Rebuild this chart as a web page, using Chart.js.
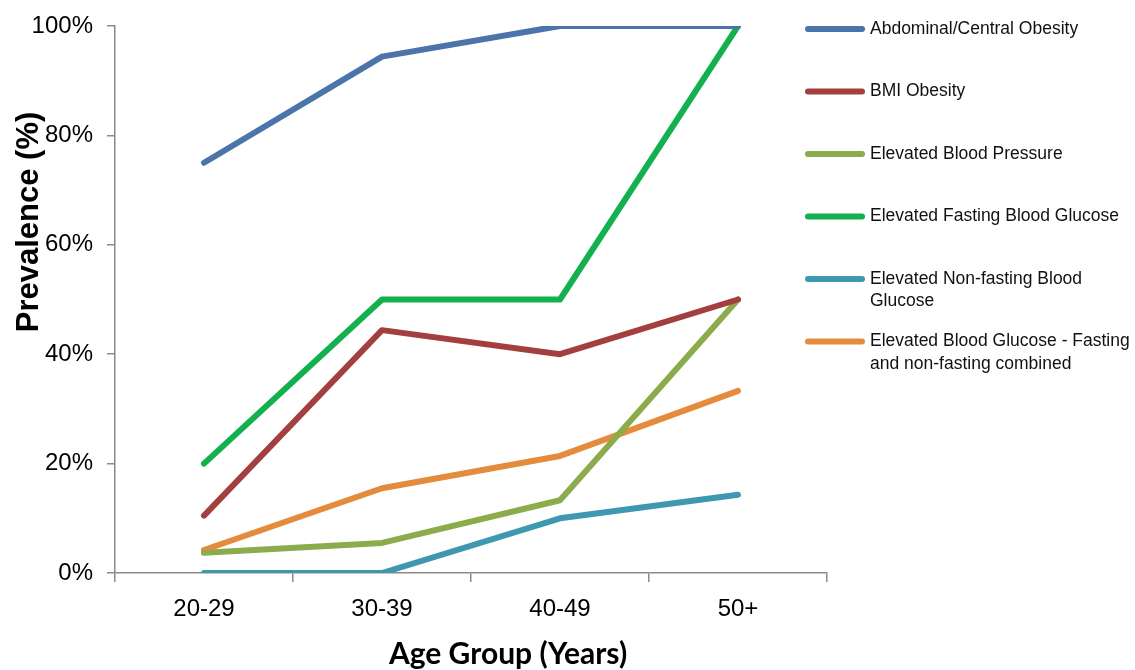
<!DOCTYPE html>
<html>
<head>
<meta charset="utf-8">
<script src="https://cdn.jsdelivr.net/npm/chart.js@4.4.1/dist/chart.umd.min.js"></script>
<style>
  html, body { margin: 0; padding: 0; background: #fff; }
</style>
</head>
<body>
<canvas id="myChart" width="1135" height="670"></canvas>
<script>
const ageGroups = ['20-29', '30-39', '40-49', '50+'];

const seriesLabels = [
  ['Abdominal/Central Obesity'],
  ['BMI Obesity'],
  ['Elevated Blood Pressure'],
  ['Elevated Fasting Blood Glucose'],
  ['Elevated Non-fasting Blood', 'Glucose'],
  ['Elevated Blood Glucose - Fasting', 'and non-fasting combined']
];

const abdominalObesity = [75, 94.4, 100, 100];
const bmiObesity = [10.5, 44.4, 40, 50];
const bloodPressure = [3.7, 5.5, 13.3, 50];
const fastingGlucose = [20, 50, 50, 100];
const nonFastingGlucose = [0, 0, 10, 14.3];
const combinedGlucose = [4.2, 15.5, 21.4, 33.3];

const seriesColors = ['#4a74aa', '#a3403f', '#8cab4a', '#12b04f', '#3e98af', '#e48b3d'];

const xTitle = 'Age Group (Years)';
const yTitle = 'Prevalence (%)';

const axisColor = '#8a8a8a';

// legend + axis titles drawn by hand, placed like the original
const extrasPlugin = {
  id: 'extras',
  afterDraw(chart) {
    const ctx = chart.ctx;
    ctx.save();
    // legend
    chart.data.datasets.forEach((ds, i) => {
      const y = 29 + i * 62.5;
      ctx.strokeStyle = ds.borderColor;
      ctx.lineWidth = 6;
      ctx.lineCap = 'round';
      ctx.beginPath();
      ctx.moveTo(808, y);
      ctx.lineTo(862, y);
      ctx.stroke();
      ctx.fillStyle = '#111';
      ctx.font = '17.5px "Liberation Sans", Arial, sans-serif';
      ctx.textAlign = 'left';
      ctx.textBaseline = 'middle';
      seriesLabels[i].forEach((line, j) => {
        ctx.fillText(line, 870, y + j * 22.5);
      });
    });
    // axis titles
    ctx.fillStyle = '#000';
    ctx.font = 'bold 30px Lato, "Open Sans", sans-serif';
    ctx.textAlign = 'center';
    ctx.textBaseline = 'middle';
    ctx.fillText(xTitle, 508, 654);
    ctx.font = 'bold 31px "Liberation Sans", Arial, sans-serif';
    ctx.translate(29, 222);
    ctx.rotate(-Math.PI / 2);
    ctx.fillText(yTitle, 0, 0);
    ctx.restore();
  }
};

const setup = () => {
  const ctxt = document.getElementById('myChart').getContext('2d');
  const allSeries = [abdominalObesity, bmiObesity, bloodPressure, fastingGlucose, nonFastingGlucose, combinedGlucose];

  new Chart(ctxt, {
    type: 'line',
    data: {
      labels: ageGroups,
      datasets: allSeries.map((values, i) => ({
        label: seriesLabels[i].join(' '),
        data: values,
        borderColor: seriesColors[i],
        backgroundColor: seriesColors[i],
        borderWidth: 6,
        pointRadius: 0,
        borderCapStyle: 'round',
        borderJoinStyle: 'round',
        tension: 0,
        fill: false
      }))
    },
    options: {
      responsive: false,
      animation: false,
      devicePixelRatio: 1,
      layout: { padding: { left: 0, right: 308, top: 26, bottom: 0 } },
      plugins: {
        legend: { display: false },
        tooltip: { enabled: false }
      },
      scales: {
        x: {
          type: 'category',
          offset: true,
          afterFit: (s) => { s.height = 97; },
          grid: { offset: true, drawOnChartArea: false, tickLength: 9, color: axisColor, lineWidth: 1.5 },
          border: { color: axisColor, width: 1.5 },
          ticks: {
            color: '#000',
            padding: 13,
            font: { family: '"Liberation Sans", Arial, sans-serif', size: 24 }
          }
        },
        y: {
          min: 0,
          max: 100,
          afterFit: (s) => { s.width = 115; },
          grid: { drawOnChartArea: false, tickLength: 8, color: axisColor, lineWidth: 1.5 },
          border: { color: axisColor, width: 1.5 },
          ticks: {
            stepSize: 20,
            color: '#000',
            padding: 14,
            font: { family: '"Liberation Sans", Arial, sans-serif', size: 24, lineHeight: 1 },
            callback: (v) => v + '%'
          }
        }
      }
    },
    plugins: [extrasPlugin]
  });
};

window.addEventListener('DOMContentLoaded', setup);
</script>
</body>
</html>
